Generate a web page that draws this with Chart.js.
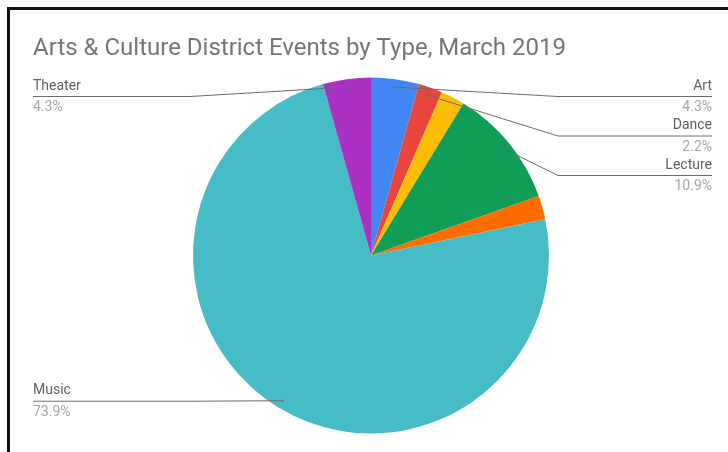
<!DOCTYPE html>
<html>
<head>
<meta charset="utf-8">
<script src="https://cdn.jsdelivr.net/npm/chart.js@4/dist/chart.umd.min.js"></script>
<style>
  html, body { margin: 0; padding: 0; background: #fff; }
  #wrap { position: relative; width: 728px; height: 452px; overflow: hidden; }
  #frame {
    position: absolute; left: 7px; top: 7px; right: -10px; bottom: -10px;
    border-left: 3px solid #111; border-top: 3px solid #111;
    pointer-events: none;
  }
  canvas { position: absolute; left: 0; top: 0; }
</style>
</head>
<body>
<div id="wrap">
  <canvas id="chart" width="728" height="452"></canvas>
  <div id="frame"></div>
</div>
<script>
// Event counts per type for March 2019
const categories = ['Art', 'Dance', 'Film', 'Lecture', 'Literary', 'Music', 'Theater'];
const eventCounts = [2, 1, 1, 5, 1, 34, 2];
const sliceColors = ['#4285F4', '#E8453C', '#FBBC04', '#0F9D58', '#FF6D01', '#46BDC6', '#AB30C4'];
// Slices that carry a callout label
const labelledTypes = ['Art', 'Dance', 'Lecture', 'Music', 'Theater'];
const chartTitle = 'Arts & Culture District Events by Type, March 2019';

const FONT = 'Roboto, "Noto Sans", sans-serif';

// Title and leader-line callouts drawn on top of the pie
const calloutPlugin = {
  id: 'callouts',
  afterDraw(chart) {
    const ctx = chart.ctx;
    const meta = chart.getDatasetMeta(0);
    const values = chart.data.datasets[0].data;
    const total = values.reduce((a, b) => a + b, 0);

    ctx.save();
    ctx.fillStyle = '#757575';
    ctx.font = '24px ' + FONT;
    ctx.textAlign = 'left';
    ctx.textBaseline = 'alphabetic';
    ctx.fillText(chartTitle, 33, 55);

    const leftX = 33, rightX = 712;
    const minLineY = 96, rowGap = 39.5;
    const sides = { left: [], right: [] };

    meta.data.forEach((arc, i) => {
      const name = chart.data.labels[i];
      if (!labelledTypes.includes(name)) return;
      const mid = (arc.startAngle + arc.endAngle) / 2;
      const r = arc.outerRadius * 0.955;
      const ax = arc.x + Math.cos(mid) * r;
      const ay = arc.y + Math.sin(mid) * r;
      const side = ax >= arc.x ? 'right' : 'left';
      sides[side].push({ name, ax, ay, cx: arc.x, R: arc.outerRadius,
        pct: (values[i] / total * 100).toFixed(1) + '%' });
    });

    ['left', 'right'].forEach(side => {
      const items = sides[side].sort((a, b) => a.ay - b.ay);
      let prev = -Infinity;
      items.forEach(it => {
        let ly = Math.max(it.ay, minLineY, prev + rowGap);
        prev = ly;
        const elbowX = side === 'right' ? it.cx + it.R + 9 : it.cx - it.R - 3;
        const endX = side === 'right' ? rightX : leftX;

        ctx.strokeStyle = '#6b6b6b';
        ctx.lineWidth = 1;
        ctx.beginPath();
        ctx.moveTo(it.ax, it.ay);
        if ((side === 'right' && it.ax < elbowX) || (side === 'left' && it.ax > elbowX)) {
          ctx.lineTo(elbowX, ly + 0.5);
        }
        ctx.lineTo(endX, ly + 0.5);
        ctx.stroke();

        ctx.fillStyle = 'rgba(110,110,110,0.9)';
        ctx.beginPath();
        ctx.arc(it.ax, it.ay, 1.3, 0, Math.PI * 2);
        ctx.fill();

        ctx.textAlign = side === 'right' ? 'right' : 'left';
        ctx.textBaseline = 'middle';
        ctx.font = '14px ' + FONT;
        ctx.fillStyle = '#5f5f5f';
        ctx.fillText(it.name, endX, ly - 10);
        ctx.fillStyle = '#a6a6a6';
        ctx.fillText(it.pct, endX, ly + 11.5);
      });
    });
    ctx.restore();
  }
};

new Chart(document.getElementById('chart'), {
  type: 'pie',
  data: {
    labels: categories,
    datasets: [{
      data: eventCounts,
      backgroundColor: sliceColors,
      borderWidth: 0
    }]
  },
  options: {
    responsive: false,
    animation: false,
    layout: { padding: { left: 193, right: 179, top: 77.5, bottom: 18.5 } },
    plugins: {
      legend: { display: false },
      tooltip: { enabled: false },
      title: { display: false }
    }
  },
  plugins: [calloutPlugin]
});
</script>
</body>
</html>
